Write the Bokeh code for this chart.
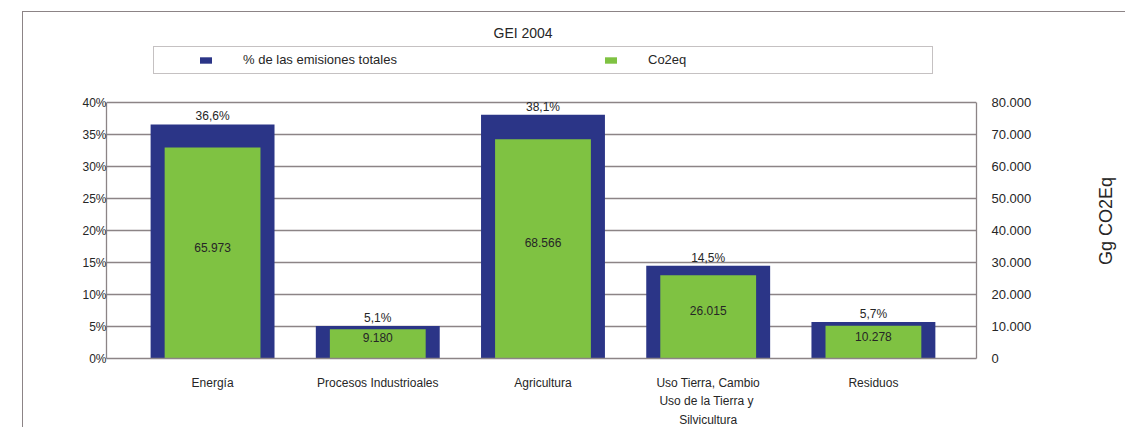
from bokeh.plotting import figure
from bokeh.layouts import row
from bokeh.models import Range1d, LinearAxis, FixedTicker, ColumnDataSource, Legend, LegendItem
from bokeh.core.properties import value
from bokeh.embed import file_html
from bokeh.resources import INLINE

# ---- data ----
categories = ["Energía", "Procesos Industrioales", "Agricultura",
              "Uso Tierra, Cambio\nUso de la Tierra  y\nSilvicultura", "Residuos"]
pct_values = [36.6, 5.1, 38.1, 14.5, 5.7]
pct_labels = ["36,6%", "5,1%", "38,1%", "14,5%", "5,7%"]
co2_values = [65973, 9180, 68566, 26015, 10278]
co2_labels = ["65.973", "9.180", "68.566", "26.015", "10.278"]
pct_ticks = [0, 5, 10, 15, 20, 25, 30, 35, 40]
pct_tick_labels = ["0%", "5%", "10%", "15%", "20%", "25%", "30%", "35%", "40%"]
co2_ticks = [0, 10000, 20000, 30000, 40000, 50000, 60000, 70000, 80000]
co2_tick_labels = ["0", "10.000", "20.000", "30.000", "40.000", "50.000", "60.000", "70.000", "80.000"]
co2_axis_title = "Gg CO2Eq"

FONT = "Liberation Sans"
BLUE = "#2b3587"
GREEN = "#7fc242"
GRAY = "#8c8486"
TXT = "#262626"

xs = list(range(len(categories)))

# layout: the bar area (0..40 %) is 255 px tall; the frame extends above it
# to hold the legend box.
BAR_AREA_PX = 255
FRAME_H = 313
pct_end = pct_ticks[-1] * FRAME_H / BAR_AREA_PX
co2_end = co2_ticks[-1] * FRAME_H / BAR_AREA_PX

p = figure(frame_width=869, frame_height=FRAME_H,
           x_range=Range1d(-0.642, 4.624), y_range=Range1d(0, pct_end),
           output_backend="svg", toolbar_location=None,
           min_border_left=83, min_border_top=32, min_border_right=60, min_border_bottom=63,
           margin=(11, 0, 0, 22))
p.styles = {"border-top": f"1px solid {GRAY}", "border-left": f"1px solid {GRAY}"}
p.extra_y_ranges = {"co2": Range1d(0, co2_end)}
p.outline_line_color = None

src = ColumnDataSource(dict(
    x=xs, pct=pct_values, co2=co2_values,
    pct_label=pct_labels, co2_label=co2_labels,
    co2_mid=[v / 2 for v in co2_values],
))

blue = p.vbar(x="x", top="pct", width=0.75, source=src, fill_color=BLUE, line_color=None)
green = p.vbar(x="x", top="co2", width=0.58, source=src, y_range_name="co2",
               fill_color=GREEN, line_color=None)

p.text(x="x", y="pct", text="pct_label", source=src, text_align="center",
       text_baseline="middle", y_offset=-8, text_font=value(FONT),
       text_font_size="12px", text_color=TXT)
p.text(x="x", y="co2_mid", text="co2_label", source=src, y_range_name="co2",
       text_align="center", text_baseline="middle", y_offset=-6,
       text_font=value(FONT), text_font_size="12px", text_color=TXT)

# grid
p.xgrid.visible = False
p.ygrid.grid_line_color = GRAY
p.ygrid.grid_line_width = 1.3

# left axis
ya = p.yaxis[0]
ya.ticker = FixedTicker(ticks=pct_ticks)
ya.major_label_overrides = dict(zip(pct_ticks, pct_tick_labels))
ya.bounds = (pct_ticks[0], pct_ticks[-1])

# right axis
ra = LinearAxis(y_range_name="co2", ticker=FixedTicker(ticks=co2_ticks),
                major_label_overrides=dict(zip(co2_ticks, co2_tick_labels)),
                bounds=(co2_ticks[0], co2_ticks[-1]))
p.add_layout(ra, "right")

# bottom axis
xa = p.xaxis[0]
xa.ticker = FixedTicker(ticks=xs)
xa.major_label_overrides = dict(zip(xs, categories))

for ax in (ya, ra, xa):
    ax.axis_line_color = GRAY
    ax.axis_line_width = 1.3
    ax.major_tick_line_color = None
    ax.minor_tick_line_color = None
    ax.major_tick_out = 0
    ax.major_tick_in = 0
    ax.minor_tick_out = 0
    ax.major_label_text_font = FONT
    ax.major_label_text_font_size = "12px"
    ax.major_label_text_color = TXT

ya.major_label_standoff = 0
ra.major_label_standoff = 15
ra.major_label_text_font_size = "13px"
xa.major_label_standoff = 17
xa.major_label_text_line_height = 1.35

# title
p.title.text = "GEI 2004"
p.title.align = "left"
p.title.offset = 387
p.title.standoff = 8
p.title.text_font = FONT
p.title.text_font_size = "14px"
p.title.text_font_style = "normal"
p.title.text_color = TXT

# legend frame box
dummy = p.scatter(x=[], y=[], fill_alpha=0, line_alpha=0)
legend_box = Legend(items=[LegendItem(label=" ", renderers=[dummy])],
                    location=(47, 284), orientation="horizontal",
                    padding=3, spacing=0, margin=0,
                    glyph_width=1, glyph_height=20, label_width=771, label_height=20,
                    label_standoff=0, border_line_color=GRAY, border_line_width=1.3,
                    background_fill_color="white", background_fill_alpha=1)
p.add_layout(legend_box, "center")

legend = Legend(items=[LegendItem(label="% de las emisiones totales", renderers=[blue]),
                       LegendItem(label="Co2eq", renderers=[green])],
                location=(92, 291), orientation="horizontal",
                padding=0, spacing=160, margin=0,
                glyph_width=15, glyph_height=8, label_width=200, label_height=14,
                label_standoff=30, border_line_alpha=0, background_fill_alpha=0,
                label_text_font=FONT, label_text_font_size="13px", label_text_color=TXT)
p.add_layout(legend, "center")

# side strip carrying the right-hand axis title (reads bottom to top)
p2 = figure(frame_width=10, frame_height=352,
            x_range=Range1d(0, 1), y_range=Range1d(0, co2_ticks[-1]),
            output_backend="svg", toolbar_location=None,
            min_border_left=80, min_border_top=32, min_border_right=0, min_border_bottom=0,
            margin=(11, 0, 0, 0))
p2.styles = {"border-top": f"1px solid {GRAY}"}
p2.outline_line_color = None
p2.grid.visible = False
p2.xaxis.visible = False
la = p2.yaxis[0]
la.ticker = FixedTicker(ticks=[])
la.axis_line_color = None
la.major_tick_line_color = None
la.minor_tick_line_color = None
la.major_tick_out = 0
la.minor_tick_out = 0
la.major_label_standoff = 0
la.axis_label = co2_axis_title
la.axis_label_standoff = 0
la.axis_label_text_font = FONT
la.axis_label_text_font_size = "18px"
la.axis_label_text_font_style = "normal"
la.axis_label_text_color = TXT

layout = row(p, p2)
open("out.html", "w").write(file_html(layout, INLINE))
